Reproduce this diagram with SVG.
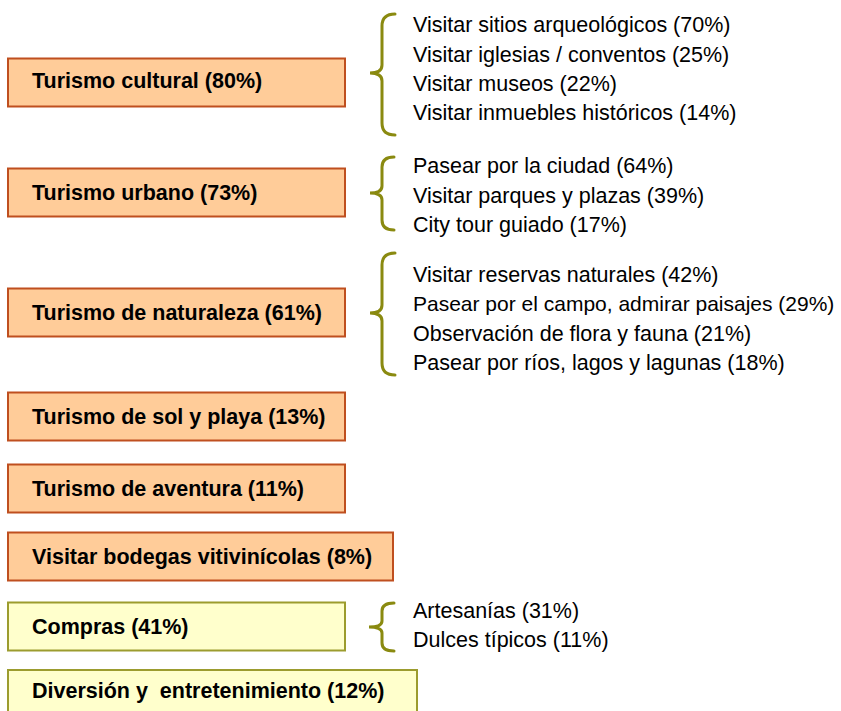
<svg xmlns="http://www.w3.org/2000/svg" width="841" height="711" viewBox="0 0 841 711">
<style>
.bo{fill:#FFCC99;stroke:#BF4F1F;stroke-width:2}
.by{fill:#FFFFCC;stroke:#9C9C2E;stroke-width:2}
.bt{font-family:"Liberation Sans",Arial,sans-serif;font-weight:bold;font-size:21.5px;fill:#000}
.lt{font-family:"Liberation Sans",Arial,sans-serif;font-size:21.5px;fill:#000}
.br{fill:none;stroke:#8A8A10;stroke-width:3;stroke-linecap:round}
</style>
<rect width="841" height="711" fill="#fff"/>
<g id="cultural"><rect class="bo" x="8" y="58.5" width="337" height="48"/><text class="bt" x="32" y="88">Turismo cultural (80%)</text></g>
<g id="urbano"><rect class="bo" x="8" y="168.5" width="337" height="48"/><text class="bt" x="32" y="199.5">Turismo urbano (73%)</text></g>
<g id="naturaleza"><rect class="bo" x="8" y="288.5" width="337" height="48"/><text class="bt" x="32" y="319.5">Turismo de naturaleza (61%)</text></g>
<g id="sol"><rect class="bo" x="8" y="392.5" width="337" height="48"/><text class="bt" x="32" y="423.5">Turismo de sol y playa (13%)</text></g>
<g id="aventura"><rect class="bo" x="8" y="464.5" width="337" height="48"/><text class="bt" x="32" y="495.5">Turismo de aventura (11%)</text></g>
<g id="bodegas"><rect class="bo" x="8" y="532.5" width="385" height="48"/><text class="bt" x="32" y="563.5">Visitar bodegas vitivinícolas (8%)</text></g>
<g id="compras"><rect class="by" x="8" y="602.5" width="337" height="48"/><text class="bt" x="32" y="633.5">Compras (41%)</text></g>
<g id="diversion"><rect class="by" x="8" y="670" width="409" height="48"/><text class="bt" x="32" y="697.5" xml:space="preserve">Diversión y  entretenimiento (12%)</text></g>
<g id="connectors">
<path class="br" d="M395,14 Q382,14 382,26 L382,65 Q382,73 370,73 Q382,73 382,81 L382,123 Q382,135 395,135"/>
<path class="br" d="M394,157 Q382,157 382,167 L382,186 Q382,193 370,193 Q382,193 382,200 L382,220 Q382,230 394,230"/>
<path class="br" d="M395,253 Q382,253 382,265 L382,305 Q382,313 370,313 Q382,313 382,321 L382,363 Q382,375 395,375"/>
<path class="br" d="M394,603 Q382,603 382,611 L382,621 Q382,627 369,627 Q382,627 382,633 L382,643 Q382,651 394,651"/>
</g>
<g id="details">
<text class="lt" x="413" y="32">Visitar sitios arqueológicos (70%)</text>
<text class="lt" x="413" y="61.5">Visitar iglesias / conventos (25%)</text>
<text class="lt" x="413" y="91">Visitar museos (22%)</text>
<text class="lt" x="413" y="120">Visitar inmuebles históricos (14%)</text>
<text class="lt" x="413" y="173">Pasear por la ciudad (64%)</text>
<text class="lt" x="413" y="202.5">Visitar parques y plazas (39%)</text>
<text class="lt" x="413" y="231.5">City tour guiado (17%)</text>
<text class="lt" x="413" y="281.5">Visitar reservas naturales (42%)</text>
<text class="lt" x="413" y="311" style="font-size:21px">Pasear por el campo, admirar paisajes (29%)</text>
<text class="lt" x="413" y="340.5">Observación de flora y fauna (21%)</text>
<text class="lt" x="413" y="370">Pasear por ríos, lagos y lagunas (18%)</text>
<text class="lt" x="413" y="618">Artesanías (31%)</text>
<text class="lt" x="413" y="646.5">Dulces típicos (11%)</text>
</g>
</svg>
